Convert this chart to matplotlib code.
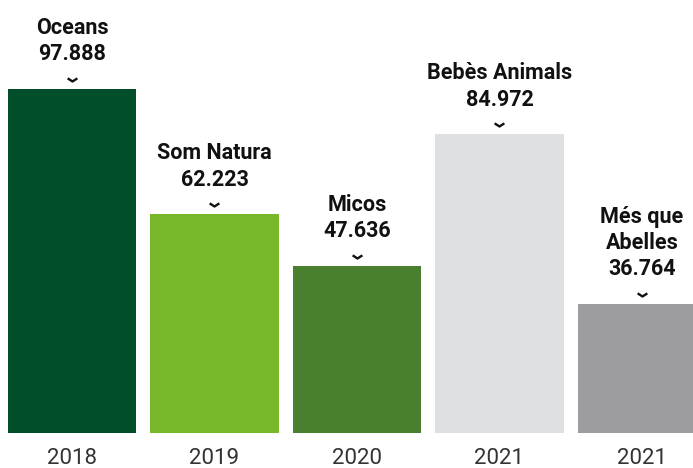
import matplotlib
matplotlib.use("Agg")
import matplotlib.pyplot as plt
import matplotlib.transforms as mtransforms
from matplotlib.markers import MarkerStyle

years = ['2018', '2019', '2020', '2021', '2021']
names = ['Oceans', 'Som Natura', 'Micos', 'Bebès Animals', 'Més que\nAbelles']
values = [97.888, 62.223, 47.636, 84.972, 36.764]
colors = ['#004f2a', '#78b82a', '#4a7f30', '#dfe0e2', '#9d9d9f']

fig = plt.figure(figsize=(6.93, 4.68), dpi=100)
ax = fig.add_axes([0, 35/468, 1, 433/468])

x = list(range(len(values)))
ax.bar(x, values, width=0.9, color=colors)
ax.set_xlim(-0.505, 4.358)
ax.set_ylim(0, 123.2)

for s in ax.spines.values():
    s.set_visible(False)
ax.set_yticks([])
ax.set_xticks(x)
ax.set_xticklabels(years, family=['Roboto', 'DejaVu Sans'],
                   fontsize=16, color='#333333')
ax.tick_params(axis='x', length=0, pad=10.5)

# chevrons just above each bar
chev = MarkerStyle([(-1, 0.65), (0, 0), (1, 0.65)], joinstyle='miter', capstyle='butt')
tr = mtransforms.offset_copy(ax.transData, fig=fig, x=0, y=8/1.389, units='points')
for xi, v in zip(x, values):
    ax.plot([xi], [v], marker=chev, markersize=7, markerfacecolor='none',
            markeredgecolor='#111111', markeredgewidth=1.7, transform=tr,
            clip_on=False)

# name + value labels
for xi, v, n in zip(x, values, names):
    txt = n + '\n' + f'{v:.3f}'
    ax.annotate(txt, (xi, v), xytext=(0, 17), textcoords='offset points',
                ha='center', va='bottom', fontsize=15.5, fontweight='bold',
                family=['Roboto', 'DejaVu Sans'], color='#111111',
                linespacing=1.25)

fig.savefig('out.png', dpi=100)
